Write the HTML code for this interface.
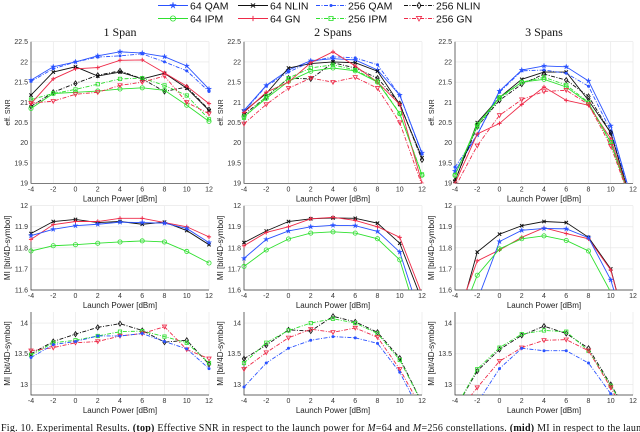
<!DOCTYPE html>
<html><head><meta charset="utf-8"><style>
body{margin:0;background:#fff;}
svg{display:block;font-family:"Liberation Sans",sans-serif;}
</style></head><body>
<svg id="fig" width="640" height="432" viewBox="0 0 640 432" xmlns="http://www.w3.org/2000/svg"></svg>
<script>
const xs=[-4,-2,0,2,4,6,8,10,12];
const xTicks=[-4,-2,0,2,4,6,8,10,12];
const rowYTicks=[[19,19.5,20,20.5,21,21.5,22,22.5],[11.6,11.7,11.8,11.9,12],[13,13.5,14]];
const rowYLims=[[19,22.5],[11.6,12],[12.83,14.18]];
const titles=["1 Span","2 Spans","3 Spans"];
const seriesNames=["64 QAM","64 NLIN","256 QAM","256 NLIN","64 IPM","64 GN","256 IPM","256 GN"];
const snr1=[[21.55,21.88,22.0,22.15,22.25,22.22,22.13,21.9,21.33],[21.18,21.75,21.88,21.65,21.75,21.58,21.72,21.35,20.8],[21.52,21.83,22.0,22.12,22.15,22.2,22.0,21.78,21.27],[20.9,21.25,21.47,21.67,21.78,21.58,21.27,21.38,20.82],[20.85,21.22,21.25,21.28,21.33,21.36,21.3,20.93,20.53],[20.97,21.58,21.83,21.86,22.04,22.05,21.73,21.4,20.97],[21.07,21.22,21.32,21.45,21.58,21.6,21.42,21.17,20.58],[20.98,21.03,21.2,21.25,21.42,21.5,21.65,21.0,20.72]];
const snr2=[[20.8,21.42,21.8,22.03,22.08,22.05,21.8,21.18,19.75],[20.78,21.22,21.85,21.96,22.0,21.98,21.77,20.95,19.63],[20.78,21.4,21.75,22.0,22.13,22.1,21.93,21.18,19.72],[20.7,21.13,21.6,21.58,21.98,21.85,21.6,20.97,19.58],[20.65,21.1,21.52,21.77,21.85,21.78,21.5,20.72,19.2],[20.75,21.25,21.5,21.98,22.25,21.9,21.5,20.95,19.0],[20.62,21.15,21.6,21.85,21.93,21.8,21.52,20.73,19.22],[20.47,20.95,21.35,21.6,21.5,21.62,21.35,20.5,18.95]];
const snr3=[[19.3,20.2,21.28,21.8,21.9,21.88,21.53,20.42,18.5],[19.05,20.5,21.12,21.57,21.75,21.75,21.05,20.25,18.4],[19.4,20.2,21.25,21.78,21.8,21.72,21.4,20.3,18.5],[19.07,20.4,21.05,21.45,21.7,21.55,21.15,20.25,18.4],[19.2,20.45,21.12,21.5,21.57,21.38,20.98,20.0,18.4],[19.0,20.22,20.48,20.95,21.38,21.05,20.93,20.1,18.4],[19.2,20.4,21.1,21.5,21.62,21.43,21.0,20.02,18.4],[18.9,19.93,20.68,21.07,21.27,21.3,20.95,19.92,18.4]];
const mi64_1=[[11.868,11.925,11.935,11.92,11.925,11.912,11.922,11.882,11.815],[11.84,11.91,11.925,11.925,11.94,11.94,11.92,11.9,11.852],[11.858,11.888,11.905,11.912,11.922,11.92,11.917,11.892,11.825],[11.785,11.81,11.815,11.822,11.828,11.833,11.828,11.783,11.728]];
const mi64_2=[[11.825,11.88,11.925,11.938,11.942,11.94,11.917,11.822,11.55],[11.81,11.873,11.9,11.938,11.945,11.93,11.9,11.85,11.58],[11.75,11.84,11.88,11.9,11.907,11.905,11.878,11.78,11.45],[11.712,11.79,11.842,11.87,11.876,11.87,11.843,11.743,11.4]];
const mi64_3=[[11.4,11.78,11.865,11.905,11.925,11.92,11.85,11.70,11.3],[11.45,11.738,11.79,11.85,11.895,11.868,11.843,11.695,11.3],[11.3,11.55,11.83,11.883,11.892,11.89,11.848,11.648,11.3],[11.4,11.67,11.795,11.843,11.857,11.835,11.785,11.59,11.3]];
const mi256_1=[[13.5,13.7,13.82,13.93,13.99,13.88,13.69,13.72,13.33],[13.48,13.68,13.72,13.79,13.86,13.87,13.78,13.68,13.35],[13.55,13.6,13.68,13.7,13.79,13.83,13.94,13.57,13.42],[13.44,13.65,13.7,13.79,13.79,13.83,13.7,13.58,13.26]];
const mi256_2=[[13.42,13.64,13.89,13.87,14.11,14.02,13.85,13.43,12.7],[13.35,13.68,13.88,14.0,14.07,14.0,13.83,13.4,12.7],[13.25,13.52,13.76,13.9,13.85,13.92,13.77,13.25,12.6],[12.96,13.35,13.59,13.72,13.78,13.76,13.67,13.2,12.5]];
const mi256_3=[[12.6,13.22,13.57,13.8,13.95,13.83,13.59,13.0,12.4],[12.6,13.25,13.6,13.82,13.88,13.86,13.55,12.98,12.4],[12.5,12.95,13.38,13.6,13.72,13.73,13.55,12.95,12.3],[12.3,12.7,13.26,13.59,13.55,13.55,13.35,12.85,12.2]];

const NS="http://www.w3.org/2000/svg";
const svg=document.getElementById('fig');
function mk(tag,attrs,parent){const e=document.createElementNS(NS,tag);for(const k in attrs)e.setAttribute(k,attrs[k]);(parent||svg).appendChild(e);return e;}
const BLUE="#2a52ff",BLACK="#111",GREEN="#2fe02f",RED="#ee2a48";
const styles={"64 QAM":[BLUE,"","star"],"64 NLIN":[BLACK,"","x"],"256 QAM":[BLUE,"4 1.5 1 1.5","dot"],"256 NLIN":[BLACK,"4 1.5 1 1.5","diamond"],"64 IPM":[GREEN,"","circle"],"64 GN":[RED,"","plus"],"256 IPM":[GREEN,"4 1.5 1 1.5","square"],"256 GN":[RED,"4 1.5 1 1.5","tri"]};
function marker(g,type,x,y,c,s){
  s=s||2.1;
  if(type==="star"){let p=[];for(let i=0;i<10;i++){const r=i%2?s*0.45:s*1.3;const a=-Math.PI/2+i*Math.PI/5;p.push((x+r*Math.cos(a)).toFixed(2)+","+(y+r*Math.sin(a)).toFixed(2));}mk('polygon',{points:p.join(' '),fill:c,stroke:c,'stroke-width':0.4},g);}
  else if(type==="dot"){mk('circle',{cx:x,cy:y,r:1.5,fill:c},g);}
  else if(type==="x"){const q=s*0.8;mk('path',{d:`M${x-q} ${y-q}L${x+q} ${y+q}M${x-q} ${y+q}L${x+q} ${y-q}`,stroke:c,'stroke-width':1},g);}
  else if(type==="plus"){mk('path',{d:`M${x-s} ${y}L${x+s} ${y}M${x} ${y-s}L${x} ${y+s}`,stroke:c,'stroke-width':1},g);}
  else if(type==="diamond"){mk('polygon',{points:`${x},${y-s*1.2} ${x+s*0.8},${y} ${x},${y+s*1.2} ${x-s*0.8},${y}`,fill:'none',stroke:c,'stroke-width':0.8},g);}
  else if(type==="circle"){mk('circle',{cx:x,cy:y,r:s,fill:'none',stroke:c,'stroke-width':0.8},g);}
  else if(type==="square"){mk('rect',{x:x-s*0.8,y:y-s*0.8,width:s*1.6,height:s*1.6,fill:'none',stroke:c,'stroke-width':0.8},g);}
  else if(type==="tri"){mk('polygon',{points:`${x-s},${y-s*0.8} ${x+s},${y-s*0.8} ${x},${y+s}`,fill:'none',stroke:c,'stroke-width':0.8},g);}
}
const lefts=[31,244,455];const W=178;
const rowTop=[41.7,205.7,312];const rowBot=[183.3,290,395];
const yLabels=["eff. SNR","MI [bit/4D-symbol]","MI [bit/4D-symbol]"];
const rowData=[[snr1,snr2,snr3],[mi64_1,mi64_2,mi64_3],[mi256_1,mi256_2,mi256_3]];
const rowSeries=[seriesNames,["64 NLIN","64 GN","64 QAM","64 IPM"],["256 NLIN","256 IPM","256 GN","256 QAM"]];
let clipId=0;
for(let r=0;r<3;r++){for(let p=0;p<3;p++){
  const L=lefts[p],T=rowTop[r],B=rowBot[r];
  const [y0,y1]=rowYLims[r];
  const X=v=>L+(v-(-4))/16*W;
  const Y=v=>B-(v-y0)/(y1-y0)*(B-T);
  const g=mk('g',{});
  
  
  mk('rect',{x:L,y:T,width:W,height:B-T,fill:'#fff',stroke:'none'},g);
  xTicks.forEach(t=>{mk('line',{x1:X(t),x2:X(t),y1:T,y2:B,stroke:'#e4e4e4','stroke-width':0.6},g);
    const tl=mk('text',{x:X(t),y:B+8,'font-size':7,'text-anchor':'middle',fill:'#333'},g);tl.textContent=t;
    
    });
  rowYTicks[r].forEach(t=>{mk('line',{x1:L,x2:L+W,y1:Y(t),y2:Y(t),stroke:'#e4e4e4','stroke-width':0.6},g);
    const tl=mk('text',{x:L-3,y:Y(t)+2.4,'font-size':7,'text-anchor':'end',fill:'#333'},g);tl.textContent=t;
    
    });
  mk('path',{d:`M${L} ${T}V${B}H${L+W}`,stroke:'#333',fill:'none','stroke-width':0.7},g);
  const cid='c'+(clipId++);
  const cp=mk('clipPath',{id:cid},g);mk('rect',{x:L-3,y:T-3,width:W+6,height:B-T+3},cp);
  const sg=mk('g',{'clip-path':`url(#${cid})`},g);
  const inner=mk('clipPath',{id:cid+'i'},g);mk('rect',{x:L,y:T,width:W+3,height:B-T},inner);
  rowData[r][p].forEach((vals,si)=>{
    const nm=rowSeries[r][si];const [c,dash,mt]=styles[nm];
    const pts=vals.map((v,i)=>X(xs[i]).toFixed(2)+","+Y(v).toFixed(2)).join(' ');
    const pl=mk('polyline',{points:pts,fill:'none',stroke:c,'stroke-width':0.9,'stroke-dasharray':dash,'clip-path':`url(#${cid}i)`},sg);
    
    
    vals.forEach((v,i)=>{if(v>=y0-0.001&&v<=y1)marker(sg,mt,X(xs[i]),Y(v),c);});
  });
  const xl=mk('text',{x:L+W/2,y:B+18,'font-size':8,'text-anchor':'middle',fill:'#222'},g);xl.textContent="Launch Power [dBm]";
  
  
  const yx=L-21,yc=(T+B)/2;
  const yl=mk('text',{x:yx,y:yc,'font-size':r===0?7:8,'text-anchor':'middle',fill:'#222',transform:`rotate(-90 ${yx} ${yc})`},g);yl.textContent=yLabels[r];
  
  
  if(r===0){const tt=mk('text',{x:L+W/2,y:36,'font-size':12,'text-anchor':'middle',fill:'#111','font-family':'Liberation Serif, serif'},g);tt.textContent=titles[p];
    
    }
}}
const lg=mk('g',{});


const legX=[158,238,316,404];
seriesNames.forEach((nm,i)=>{
  const col=i%4,row=Math.floor(i/4);const x=legX[col],y=row?18.5:5.5;
  const [c,dash,mt]=styles[nm];
  const e=mk('g',{},lg);
  
  
  mk('line',{x1:x,x2:x+30,y1:y,y2:y,stroke:c,'stroke-width':1.1,'stroke-dasharray':dash},e);
  marker(e,mt,x+15,y,c,2.6);
  const t=mk('text',{x:x+32,y:y+3.8,'font-size':10.5,fill:'#111'},e);t.textContent=nm;
});
const cap=mk('text',{x:1,y:431,'font-size':10,fill:'#111','font-family':'Liberation Serif, serif',textLength:650,lengthAdjust:'spacing'});


cap.innerHTML='Fig. 10.  Experimental Results. <tspan font-weight="bold">(top)</tspan> Effective SNR in respect to the launch power for <tspan font-style="italic">M</tspan>=64 and <tspan font-style="italic">M</tspan>=256 constellations. <tspan font-weight="bold">(mid)</tspan> MI in respect to the launch';
</script>
</body></html>
